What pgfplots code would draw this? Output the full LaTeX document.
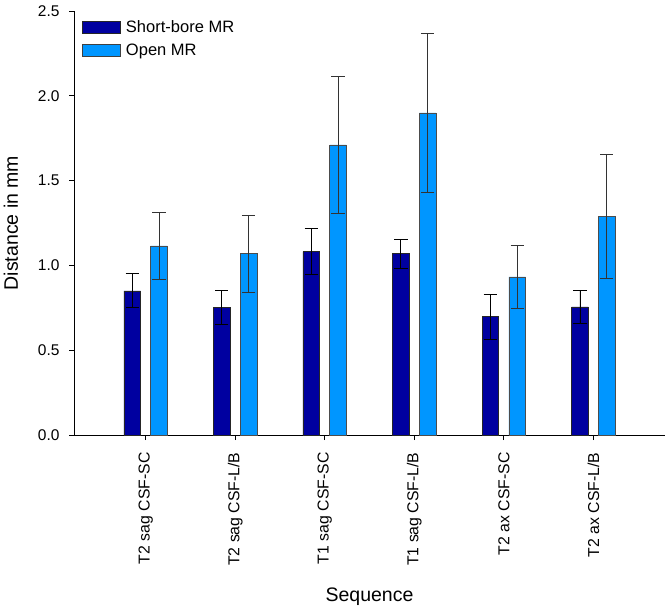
\documentclass[border=0pt]{standalone}
\usepackage{pgfplots}
\pgfplotsset{compat=1.18}
\usepackage{fontspec}
\setmainfont{Liberation Sans}
\definecolor{darkbar}{RGB}{0,0,160}
\definecolor{lightbar}{RGB}{0,150,255}
\begin{document}
\begin{tikzpicture}
\path[use as bounding box] (0,0) rectangle (670bp,614bp);
\begin{axis}[
  at={(74bp,179bp)}, anchor=south west,
  scale only axis, width=591bp, height=424bp,
  xmin=-0.8, xmax=5.8, ymin=0, ymax=2.5,
  axis x line*=bottom, axis y line*=left,
  axis line style={line width=0.9bp},
  tick align=outside, major tick length=5bp,
  tick style={line width=0.8bp, black},
  xtick={0,1,2,3,4,5},
  xticklabels={T2 sag CSF-SC, T2 sag CSF-L/B, T1 sag CSF-SC, T1 sag CSF-L/B, T2 ax CSF-SC, T2 ax CSF-L/B},
  xticklabel style={rotate=90, anchor=east, font=\fontsize{15.8bp}{18bp}\selectfont, xshift=-9bp},
  ytick={0,0.5,1,1.5,2,2.5},
  /pgf/number format/fixed, /pgf/number format/fixed zerofill,
  /pgf/number format/precision=1, /pgf/number format/assume math mode=true,
  yticklabel style={font=\fontsize{15.5bp}{17bp}\selectfont, xshift=-6bp},
  xlabel={Sequence}, ylabel={Distance in mm},
  xlabel style={at={(axis description cs:0.5,-0.382)}, anchor=center, font=\fontsize{19.5bp}{22bp}\selectfont},
  ylabel style={at={(axis description cs:-0.1066,0.5)}, anchor=center, font=\fontsize{19.5bp}{22bp}\selectfont},
  legend style={at={(axis description cs:0,1)}, anchor=north west, xshift=8bp, yshift=-7bp,
    draw=none, fill=none, inner sep=0pt, row sep=6bp,
    /tikz/every odd column/.append style={column sep=3bp},
    font=\fontsize{16.5bp}{18bp}\selectfont},
  legend cell align=left,
  ybar, bar width=16.7bp,
  clip=false,
]
\addplot[/pgf/bar shift=-13.4bp, fill=darkbar, draw=black!85, line width=0.6bp,
  legend image code/.code={\draw[fill=darkbar, draw=black!85, line width=0.8bp] (0bp,-6bp) rectangle (38bp,6bp);},
  error bars/.cd, y dir=both, y explicit,
  error bar style={black, line width=0.8bp},
  error mark options={rotate=90, mark size=6.7bp, black, line width=0.8bp}]
  coordinates {
  (0,0.850) +- (0,0.100)
  (1,0.753) +- (0,0.098)
  (2,1.081) +- (0,0.137)
  (3,1.069) +- (0,0.085)
  (4,0.698) +- (0,0.132)
  (5,0.755) +- (0,0.096)
  };
\addlegendentry{Short-bore MR}
\addplot[/pgf/bar shift=13.4bp, fill=lightbar, draw=black!70, line width=0.6bp,
  legend image code/.code={\draw[fill=lightbar, draw=black!75, line width=0.8bp] (0bp,-6bp) rectangle (38bp,6bp);},
  error bars/.cd, y dir=both, y explicit,
  error bar style={black!80, line width=0.8bp},
  error mark options={rotate=90, mark size=6.7bp, black!80, line width=0.8bp}]
  coordinates {
  (0,1.115) +- (0,0.195)
  (1,1.069) +- (0,0.228)
  (2,1.710) +- (0,0.405)
  (3,1.899) +- (0,0.468)
  (4,0.932) +- (0,0.184)
  (5,1.289) +- (0,0.368)
  };
\addlegendentry{Open MR}
\end{axis}
\end{tikzpicture}
\end{document}
